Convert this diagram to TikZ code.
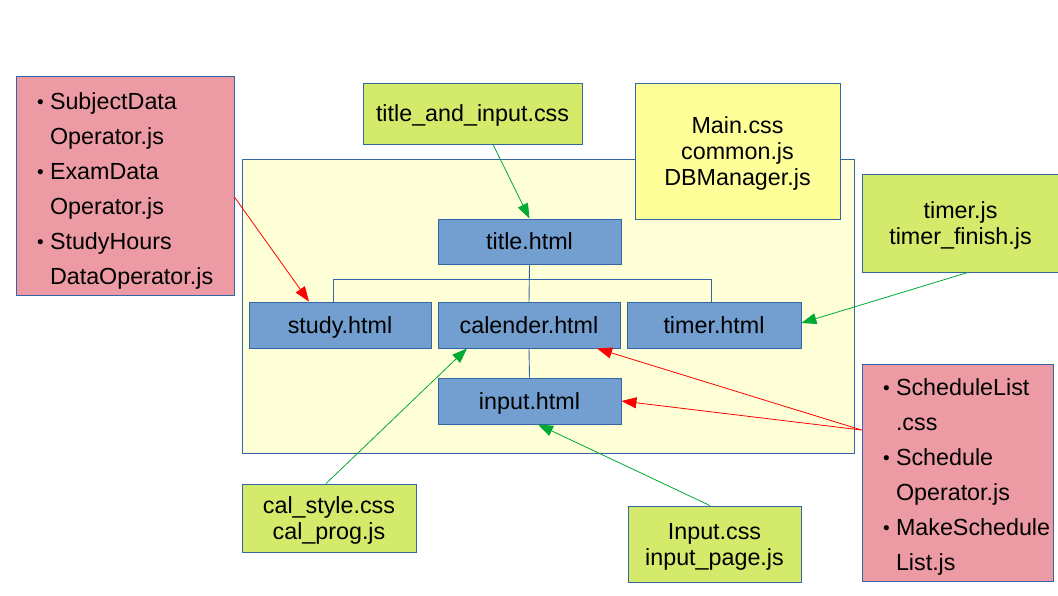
\documentclass[tikz,border=0pt]{standalone}
\usepackage{fontspec}
\setmainfont{Liberation Sans}
\usetikzlibrary{arrows.meta,calc}
\definecolor{bord}{HTML}{3465A4}
\definecolor{bgyel}{HTML}{FFFFD7}
\definecolor{boxyel}{HTML}{FFFF99}
\definecolor{boxgreen}{HTML}{D4EA6B}
\definecolor{boxpink}{HTML}{EC9BA4}
\definecolor{boxblue}{HTML}{729FCF}
\definecolor{arrgreen}{HTML}{00A933}
\definecolor{arrred}{HTML}{FF0000}
\newcommand{\nohyph}{\hyphenpenalty=10000\hbadness=10000\hfuzz=50pt\relax}
\newcommand{\topS}[1][22.6pt]{\rule{0pt}{#1}}
\newcommand{\botS}{\rule[-6pt]{0pt}{6pt}}
\tikzset{
  base/.style={draw=bord, line width=0.9pt, inner sep=0pt, align=center,
    font=\fontsize{23.3}{26}\selectfont, text=black},
  page/.style={base, fill=boxblue},
  res/.style={base, fill=boxgreen},
  common/.style={base, fill=boxyel},
  lst/.style={base, fill=boxpink, align=left,
    font=\fontsize{23.3}{35}\selectfont\nohyph},
  tree/.style={draw=bord, line width=0.9pt},
  garr/.style={draw=arrgreen, line width=0.8pt, -{Triangle[length=15pt,width=11pt]}},
  rarr/.style={draw=arrred, line width=0.8pt, -{Triangle[length=15pt,width=11pt]}},
}
\newcommand{\bul}{\makebox[13pt][l]{\fontsize{19}{19}\selectfont\raisebox{1pt}{•}}}
\newcommand{\cont}{\hspace*{13pt}}
\begin{document}
\begin{tikzpicture}[x=1pt,y=-1pt]
\useasboundingbox (0,0) rectangle (1058,595);
% background panel
\node[base, fill=bgyel, minimum width=612pt, minimum height=294pt] (panel) at (548,306) {};
% pages
\node[page, minimum width=183pt, minimum height=45pt] (title) at (529.5,241.5) {\topS title.html\botS};
\node[page, minimum width=182pt, minimum height=46pt] (study) at (340,325) {\topS study.html\botS};
\node[page, minimum width=182pt, minimum height=46pt] (cal) at (529,325) {\topS calender.html\botS};
\node[page, minimum width=174pt, minimum height=46pt] (timer) at (714,325) {\topS timer.html\botS};
\node[page, minimum width=183pt, minimum height=46pt] (input) at (529.5,401) {\topS input.html\botS};
% resources
\node[res, minimum width=219pt, minimum height=61pt] (tiai) at (472.5,113.5) {\topS title\_and\_input.css\botS};
\node[common, minimum width=205pt, minimum height=136pt] (main) at (737.5,151) {\topS Main.css\\common.js\\DBManager.js\botS};
\node[res, minimum width=197pt, minimum height=98pt] (timerjs) at (960.5,223) {\topS timer.js\\timer\_finish.js\botS};
\node[res, minimum width=174pt, minimum height=68pt] (calstyle) at (329,518) {\topS cal\_style.css\\cal\_prog.js\botS};
\node[res, minimum width=173pt, minimum height=76pt] (inputcss) at (714.5,544) {\topS Input.css\\input\_page.js\botS};
% lists
\node[lst, text width=200pt, minimum width=218pt, minimum height=219pt] (pinkL) at (125,185.5)
  {\hspace*{12pt}\topS[28.6pt]\bul SubjectData\\\hspace*{12pt}\cont Operator.js\\\hspace*{12pt}\bul ExamData\\\hspace*{12pt}\cont Operator.js\\\hspace*{12pt}\bul StudyHours\\\hspace*{12pt}\cont DataOperator.js\botS};
\node[lst, text width=191pt, minimum width=191pt, minimum height=217pt] (pinkR) at (957.5,472.5)
  {\hspace*{21pt}\topS[26.6pt]\bul ScheduleList\\\hspace*{21pt}\cont .css\\\hspace*{21pt}\bul Schedule\\\hspace*{21pt}\cont Operator.js\\\hspace*{21pt}\bul MakeSchedule\\\hspace*{21pt}\cont List.js\botS};
% tree lines
\draw[tree] (title.south) -- (cal.north);
\draw[tree] ([xshift=-7pt]study.north) -- ++(0,-22) -| ([xshift=-3pt]timer.north);
\draw[tree] (cal.south) -- (input.north);
% arrows
\draw[rarr] ([yshift=-11.5pt]pinkL.east) -- ([xshift=-31pt]study.north);
\draw[garr] ([xshift=20.5pt]tiai.south) -- (title.north);
\draw[garr] ([xshift=7.5pt]timerjs.south) -- ([yshift=2pt]timer.east);
\draw[rarr] ([yshift=42.5pt]pinkR.west) -- ([xshift=68pt]cal.south);
\draw[rarr] ([yshift=42.5pt]pinkR.west) -- (input.east);
\draw[garr] ([xshift=-3pt]calstyle.north) -- ([xshift=-62pt]cal.south);
\draw[garr] ([xshift=-4.5pt]inputcss.north) -- ([xshift=8.5pt]input.south);
\end{tikzpicture}
\end{document}
